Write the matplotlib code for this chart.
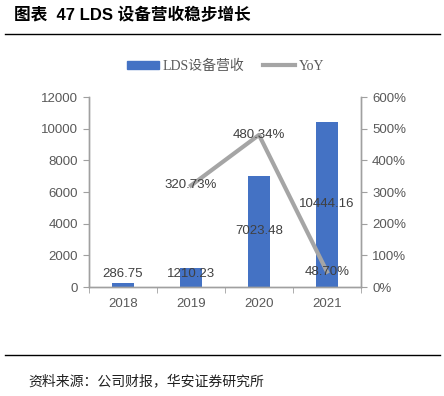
import matplotlib
matplotlib.use("Agg")
import matplotlib.pyplot as plt
from matplotlib.lines import Line2D
from matplotlib.patches import Patch

plt.rcParams['font.family'] = ['Liberation Sans', 'Noto Sans CJK SC', 'DejaVu Sans']

years = ['2018', '2019', '2020', '2021']
revenue = [286.75, 1210.23, 7023.48, 10444.16]
yoy_years = ['2019', '2020', '2021']
yoy = [320.73, 480.34, 48.70]
left_ticks = [0, 2000, 4000, 6000, 8000, 10000, 12000]
right_ticks = [0, 100, 200, 300, 400, 500, 600]

bar_color = '#4472C4'
line_color = '#A5A5A5'
txt = '#595959'

fig = plt.figure(figsize=(4.44, 3.96), dpi=100)
ax = fig.add_axes([0.2005, 0.275, 0.6125, 0.48])
ax2 = ax.twinx()

x = list(range(len(years)))
ax.bar(x, revenue, width=0.32, color=bar_color, zorder=2)
ax.set_ylim(0, 12000)
ax.set_xlim(-0.5, 3.5)
ax.set_yticks(left_ticks)
ax.set_yticklabels([str(t) for t in left_ticks])
ax.set_xticks(x)
ax.set_xticklabels(years)
ax.set_xticks([i + 0.5 for i in range(-1, len(years))], minor=True)
ax.tick_params(axis='x', which='major', length=0, pad=8, labelsize=9.5, colors=txt)
ax.tick_params(axis='x', which='minor', length=4, color='#A0A0A0')
ax.tick_params(axis='y', length=4, color='#A0A0A0', labelsize=9.5, labelcolor=txt, pad=4)

xi = [years.index(y) for y in yoy_years]
ax2.plot(xi, yoy, color=line_color, lw=3, zorder=3)
ax2.set_ylim(0, 600)
ax2.set_yticks(right_ticks)
ax2.set_yticklabels([f'{t}%' for t in right_ticks])
ax2.tick_params(axis='y', length=4, color='#A0A0A0', labelsize=9.5, labelcolor=txt, pad=4)

for a in (ax, ax2):
    a.spines['top'].set_visible(False)
    for s in ('left', 'right', 'bottom'):
        a.spines[s].set_color('#A0A0A0')
        a.spines[s].set_linewidth(1)
ax.set_zorder(1)
ax2.set_zorder(2)
ax2.patch.set_visible(False)

for i, v in enumerate(revenue):
    ax.text(i, max(v / 2, 800), f'{v:.2f}', ha='center', va='center',
            fontsize=9.5, color='#404040', zorder=5)
for i, v in zip(xi, yoy):
    ax2.text(i, v, f'{v:.2f}%', ha='center', va='center',
             fontsize=9.5, color='#404040', zorder=5)

handles = [Patch(color=bar_color), Line2D([0], [0], color=line_color, lw=3)]
fig.legend(handles, ['LDS设备营收', 'YoY'], loc='center', bbox_to_anchor=(0.508, 0.833),
           ncol=2, frameon=False, handlelength=2.3, handleheight=0.45, columnspacing=1.4,
           handletextpad=0.25,
           prop={'family': ['Liberation Serif', 'Noto Sans CJK SC'], 'size': 10},
           labelcolor=txt)

fig.text(0.032, 0.962, '图表  47 LDS 设备营收稳步增长', fontsize=12, fontweight='bold',
         ha='left', va='center', family=['Liberation Sans', 'Noto Sans CJK SC'])
fig.add_artist(Line2D([0.012, 0.99], [0.914, 0.914], color='black', lw=1))
fig.add_artist(Line2D([0.012, 0.99], [0.104, 0.104], color='black', lw=1))
fig.text(0.063, 0.038, '资料来源：公司财报，华安证券研究所', fontsize=10, ha='left', va='center',
         family=['Noto Sans CJK SC'], color='#202020')

fig.savefig('out.png', dpi=100)
